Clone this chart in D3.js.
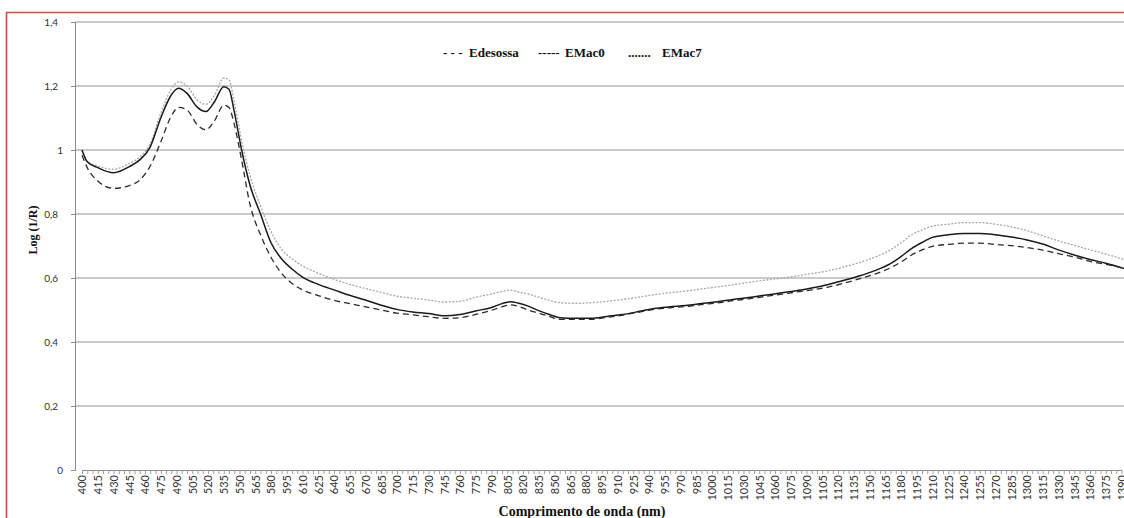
<!DOCTYPE html>
<html><head><meta charset="utf-8">
<script src="https://cdn.jsdelivr.net/npm/d3@7"></script>
<style>
html,body{margin:0;padding:0;background:#fff;}
svg{display:block;}
</style></head>
<body>
<svg id="chart" width="1124" height="518"></svg>
<script>
// ---- data ----
const wavelengths = [400,405,415,430,445,455,465,475,485,492,500,510,518,526,535,540,545,552,560,570,580,590,600,610,625,640,655,670,685,700,715,730,745,760,775,790,800,808,815,825,835,845,855,870,885,900,915,930,945,960,975,990,1005,1020,1035,1050,1065,1080,1095,1110,1125,1140,1155,1170,1180,1190,1200,1210,1225,1240,1255,1270,1285,1300,1315,1330,1345,1360,1375,1395];
const edesossa = [0.984,0.945,0.903,0.880,0.889,0.906,0.950,1.025,1.106,1.133,1.125,1.078,1.063,1.090,1.140,1.133,1.080,0.969,0.830,0.735,0.665,0.615,0.583,0.563,0.545,0.530,0.520,0.510,0.500,0.490,0.485,0.479,0.474,0.476,0.486,0.499,0.510,0.516,0.512,0.500,0.490,0.480,0.471,0.471,0.471,0.477,0.484,0.493,0.502,0.507,0.511,0.517,0.522,0.529,0.535,0.542,0.549,0.556,0.563,0.571,0.583,0.597,0.612,0.632,0.650,0.672,0.688,0.699,0.705,0.709,0.709,0.705,0.701,0.695,0.687,0.676,0.666,0.652,0.643,0.628];
const emac0 = [1.000,0.963,0.945,0.929,0.948,0.969,1.010,1.100,1.172,1.193,1.177,1.133,1.120,1.150,1.198,1.190,1.120,1.000,0.890,0.800,0.710,0.660,0.628,0.603,0.580,0.563,0.546,0.531,0.515,0.502,0.494,0.489,0.482,0.486,0.497,0.508,0.520,0.526,0.522,0.512,0.498,0.486,0.476,0.474,0.474,0.480,0.486,0.495,0.505,0.510,0.514,0.520,0.526,0.533,0.539,0.546,0.553,0.560,0.569,0.579,0.592,0.606,0.623,0.645,0.667,0.692,0.711,0.727,0.735,0.739,0.739,0.735,0.728,0.719,0.706,0.688,0.672,0.658,0.646,0.627];
const emac7 = [1.000,0.965,0.950,0.940,0.958,0.978,1.020,1.115,1.190,1.213,1.200,1.155,1.143,1.170,1.225,1.220,1.150,1.030,0.920,0.825,0.745,0.690,0.660,0.638,0.615,0.596,0.580,0.567,0.555,0.543,0.537,0.531,0.525,0.527,0.540,0.550,0.558,0.562,0.557,0.550,0.540,0.530,0.523,0.521,0.523,0.527,0.533,0.540,0.548,0.554,0.559,0.566,0.572,0.579,0.586,0.593,0.599,0.606,0.614,0.622,0.634,0.648,0.665,0.688,0.710,0.735,0.750,0.762,0.768,0.773,0.773,0.768,0.760,0.748,0.732,0.716,0.702,0.688,0.675,0.655];
const xTickLabels = d3.range(400, 1391, 15);
const xMinorTicks = d3.range(400, 1396, 5);
const yTicks = [0,0.2,0.4,0.6,0.8,1,1.2,1.4];
const seriesNames = ["Edesossa","EMac0","EMac7"];

// ---- layout ----
const svg = d3.select("#chart");
const plotLeft = 75, plotRight = 1124, plotTop = 22, plotBottom = 470;
const x = d3.scaleLinear().domain([400, 1390]).range([82, 1121.5]);
const y = d3.scaleLinear().domain([0, 1.4]).range([plotBottom, plotTop]);

// border
svg.append("path").attr("d", `M6.5,520 L6.5,12.5 L1124,12.5`)
  .attr("fill","none").attr("stroke","#d04a45").attr("stroke-width",1.6);

// gridlines
svg.append("g").selectAll("line").data(yTicks.filter(d=>d>0)).join("line")
  .attr("x1", plotLeft).attr("x2", plotRight)
  .attr("y1", d=>y(d)).attr("y2", d=>y(d))
  .attr("stroke","#b8b8b8").attr("stroke-width",1.5);

// y axis
const fmtY = d => (d===0||d===1) ? String(d) : d.toFixed(1).replace(".", ",");
const yAxis = svg.append("g").attr("transform",`translate(${plotLeft},0)`)
  .call(d3.axisLeft(y).tickValues(yTicks).tickFormat(fmtY).tickSize(4).tickPadding(13));
yAxis.select(".domain").attr("stroke","#8a8a8a");
yAxis.selectAll(".tick line").attr("stroke","#8a8a8a");
yAxis.selectAll("text").attr("font-family","Lato, 'Open Sans', sans-serif").attr("font-size","10px").attr("fill","#333")
  .attr("dx", d => (d===0||d===1) ? 5 : 0);

// x axis (minor ticks)
const xMinor = svg.append("g").attr("transform",`translate(0,${plotBottom})`)
  .call(d3.axisBottom(x).tickValues(xMinorTicks).tickFormat("").tickSize(4).tickSizeOuter(0));
xMinor.select(".domain").attr("stroke","#8a8a8a");
xMinor.selectAll(".tick line").attr("stroke","#a0a0a0");

// x axis labels
const xAxis = svg.append("g").attr("transform",`translate(0,${plotBottom})`)
  .call(d3.axisBottom(x).tickValues(xTickLabels).tickFormat(d3.format("d")).tickSize(0));
xAxis.select(".domain").remove();
xAxis.selectAll("text")
  .attr("font-family","Lato, 'Open Sans', sans-serif").attr("font-size","11px").attr("fill","#333")
  .attr("transform","rotate(-90)").attr("text-anchor","end")
  .attr("x",-5).attr("y",0).attr("dy","0.35em");

// lines
const mk = vals => d3.line().x((d,i)=>x(wavelengths[i])).y(d=>y(d)).curve(d3.curveMonotoneX)(vals);
svg.append("path").attr("d", mk(emac7)).attr("fill","none")
  .attr("stroke","#a8a8a8").attr("stroke-width",1.3).attr("stroke-dasharray","2,1.5");
svg.append("path").attr("d", mk(emac0)).attr("fill","none")
  .attr("stroke","#1a1a1a").attr("stroke-width",1.5);
svg.append("path").attr("d", mk(edesossa)).attr("fill","none")
  .attr("stroke","#2a2a2a").attr("stroke-width",1.3).attr("stroke-dasharray","6,4");

// legend
const lg = svg.append("g").attr("font-family","'Liberation Serif', 'Times New Roman', serif")
  .attr("font-weight","bold").attr("font-size","13px").attr("fill","#111");
const legendItems = [
  {t:"- - -", x:443}, {t:seriesNames[0], x:469},
  {t:"-----", x:538}, {t:seriesNames[1], x:565},
  {t:".......", x:628}, {t:seriesNames[2], x:662}
];
lg.selectAll("text").data(legendItems).join("text")
  .attr("x", d=>d.x).attr("y", 57).text(d=>d.t);

// axis titles
svg.append("text").attr("x", 582).attr("y", 516).attr("text-anchor","middle")
  .attr("font-family","'Liberation Serif', 'Times New Roman', serif").attr("font-weight","bold")
  .attr("font-size","14px").attr("fill","#111").text("Comprimento de onda (nm)");
svg.append("text").attr("transform","translate(37,230) rotate(-90)").attr("text-anchor","middle")
  .attr("font-family","'Liberation Serif', 'Times New Roman', serif").attr("font-weight","bold")
  .attr("font-size","12px").attr("fill","#111").text("Log (1/R)");
</script>
</body></html>
